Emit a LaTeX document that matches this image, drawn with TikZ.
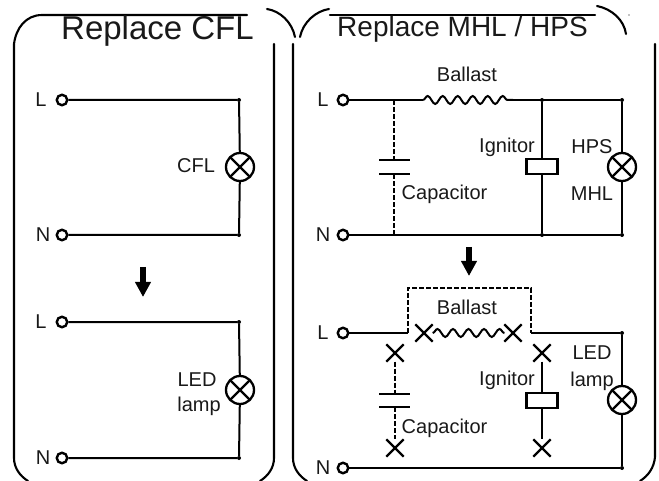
\documentclass[tikz,border=0pt]{standalone}
\usepackage{fontspec}
\setmainfont{Liberation Sans}
\usetikzlibrary{arrows.meta,shapes.misc,decorations.pathmorphing}
\newcommand{\fs}[1]{\fontsize{#1}{#1}\selectfont}
\tikzset{
  wire/.style={line width=2pt,black},
  dashwire/.style={wire,dash pattern=on 5pt off 2pt},
  panel/.style={line width=2.1pt,black,line cap=round},
  term/.style={circle,draw,line width=2.4pt,fill=white,inner sep=0pt,minimum size=10.5pt},
  lamp/.style={circle,draw,line width=2.3pt,inner sep=0pt,minimum size=28pt,
    path picture={\draw[line width=2.3pt] (path picture bounding box.north west)--(path picture bounding box.south east)
      (path picture bounding box.north east)--(path picture bounding box.south west);}},
  jn/.style={circle,fill=black,inner sep=0pt,minimum size=4pt},
  xmark/.style={cross out,draw,line width=2.3pt,inner sep=0pt,minimum size=15pt},
  lbl/.style={inner sep=0pt,font=\fs{20},text=black!90},
  ttl/.style={inner sep=0pt,text=black!90},
  coil/.style={wire,decorate,decoration={snake,segment length=15pt,amplitude=4pt}},
  plate/.style={line width=2pt,inner sep=0pt,minimum height=0pt},
  capbox/.style={draw,line width=2.3pt,inner sep=0pt,minimum width=31pt,minimum height=14.5pt},
  fatarrow/.style={line width=6pt,-{Triangle[width=15pt,length=15pt]}}
}
\begin{document}
\begin{tikzpicture}[x=1pt,y=-1pt]
\useasboundingbox (0,0) rectangle (659,481);
% panels
\draw[panel] (14,44) .. controls (16,28) and (26,15) .. (42,15) -- (247,15);
\draw[panel] (14,44) -- (14,458) .. controls (14,468) and (20,476) .. (28,481);
\draw[panel] (274,44) -- (274,458) .. controls (274,468) and (268,476) .. (260,481);
\draw[panel] (293,44) -- (293,458) .. controls (293,468) and (299,476) .. (307,481);
\draw[panel] (655,44) -- (655,457) .. controls (654,468) and (648,476) .. (640,481);
\draw[panel] (267,9) .. controls (280,11) and (292,22) .. (295,37);
\draw[panel] (300,37) .. controls (303,22) and (316,11) .. (329,9);
\draw[panel] (330,15) -- (595,15);
\draw[panel] (597,6) .. controls (612,9) and (624,20) .. (626,34);
\fill (629,15) circle (0.7);
% titles
\node[ttl,font=\fs{33}] (t1) at (157.5,31) {Replace CFL};
\node[ttl,font=\fs{28}] (t2) at (462.5,29) {Replace MHL / HPS};
% left upper
\node[term] (a1) at (62,100) {};
\node[term] (a2) at (62,235) {};
\node[jn] (a3) at (239,100) {};
\node[jn] (a4) at (239,235) {};
\node[lamp] (a5) at (240,167) {};
\draw[wire] (a1) -- (a3) -- (a5) -- (a4) -- (a2);
\node[lbl] (a6) at (41,100) {L};
\node[lbl] (a7) at (43,235) {N};
\node[lbl] (a8) at (196,166) {CFL};
% left arrow
\coordinate (b1) at (143,267);
\coordinate (b2) at (143,297);
\draw[fatarrow] (b1) -- (b2);
% left lower
\node[term] (c1) at (62,322) {};
\node[term] (c2) at (62,458) {};
\node[jn] (c3) at (239,322) {};
\node[jn] (c4) at (239,458) {};
\node[lamp] (c5) at (240,390) {};
\draw[wire] (c1) -- (c3) -- (c5) -- (c4) -- (c2);
\node[lbl] (c6) at (41,322) {L};
\node[lbl] (c7) at (43,458) {N};
\node[lbl] (c8) at (197,380) {LED};
\node[lbl] (c9) at (199,406) {lamp};
% right upper
\node[term] (d1) at (343,100) {};
\node[term] (d2) at (343,235) {};
\coordinate (d3) at (394,100);
\coordinate (d4) at (394,235);
\coordinate (d5) at (423,100);
\coordinate (d6) at (513,100);
\node[jn] (d7) at (542,100) {};
\node[jn] (d8) at (542,235) {};
\node[jn] (d9) at (622,100) {};
\node[jn] (d10) at (622,235) {};
\node[lamp] (d11) at (622,167) {};
\coordinate (d12) at (394,160);
\coordinate (d13) at (394,174.5);
\draw[wire] (d1) -- (d5);
\draw[coil] (d5) -- (d6);
\draw[wire] (d6) -- (d9) -- (d11) -- (d10) -- (d2);
\draw[dashwire] (d3) -- (d12);
\draw[dashwire] (d13) -- (d4);
\draw[plate] (379,160) -- (410,160);
\draw[plate] (379,174.5) -- (410,174.5);
\node[capbox] (d14) at (542,166.5) {};
\draw[wire] (d7) -- (d14) -- (d8);
\node[lbl] (d15) at (323,100) {L};
\node[lbl] (d16) at (323,235) {N};
\node[lbl] (d17) at (467,74) {Ballast};
\node[lbl] (d18) at (507,147) {Ignitor};
\node[lbl] (d19) at (592,147) {HPS};
\node[lbl] (d20) at (592,194) {MHL};
\node[lbl] (d21) at (444.5,194) {Capacitor};
% right arrow
\coordinate (e1) at (469,247);
\coordinate (e2) at (469,276);
\draw[fatarrow] (e1) -- (e2);
% right lower
\node[term] (f1) at (343,333) {};
\node[term] (f2) at (343,468) {};
\coordinate (f3) at (408,333);
\coordinate (f4) at (408,288);
\coordinate (f5) at (531,288);
\coordinate (f6) at (531,333);
\node[jn] (f7) at (622,333) {};
\node[jn] (f8) at (622,468) {};
\node[lamp] (f9) at (622,400) {};
\draw[wire] (f1) -- (f3);
\draw[dashwire] (f3) -- (f4) -- (f5) -- (f6);
\draw[wire] (f6) -- (f7) -- (f9) -- (f8) -- (f2);
\node[xmark] (g1) at (424,333) {};
\node[xmark] (g2) at (513,333) {};
\draw[coil,decoration={segment length=15.5pt}] (g1) -- (g2);
\node[xmark] (g3) at (395,353) {};
\node[xmark] (g4) at (395,448) {};
\node[xmark] (g5) at (542,353) {};
\node[xmark] (g6) at (542,448) {};
\coordinate (g7) at (395,394);
\coordinate (g8) at (395,407);
\draw[dashwire] (g3) -- (g7);
\draw[dashwire] (g8) -- (g4);
\draw[plate] (379,394) -- (410,394);
\draw[plate] (379,407) -- (410,407);
\node[capbox] (g9) at (542,400.5) {};
\draw[wire] (g5) -- (g9) -- (g6);
\node[lbl] (h1) at (323,333) {L};
\node[lbl] (h2) at (323,468) {N};
\node[lbl] (h3) at (467,307) {Ballast};
\node[lbl] (h4) at (507,380) {Ignitor};
\node[lbl] (h5) at (444.5,428) {Capacitor};
\node[lbl] (h6) at (592,353) {LED};
\node[lbl] (h7) at (592,381) {lamp};
\end{tikzpicture}
\end{document}
